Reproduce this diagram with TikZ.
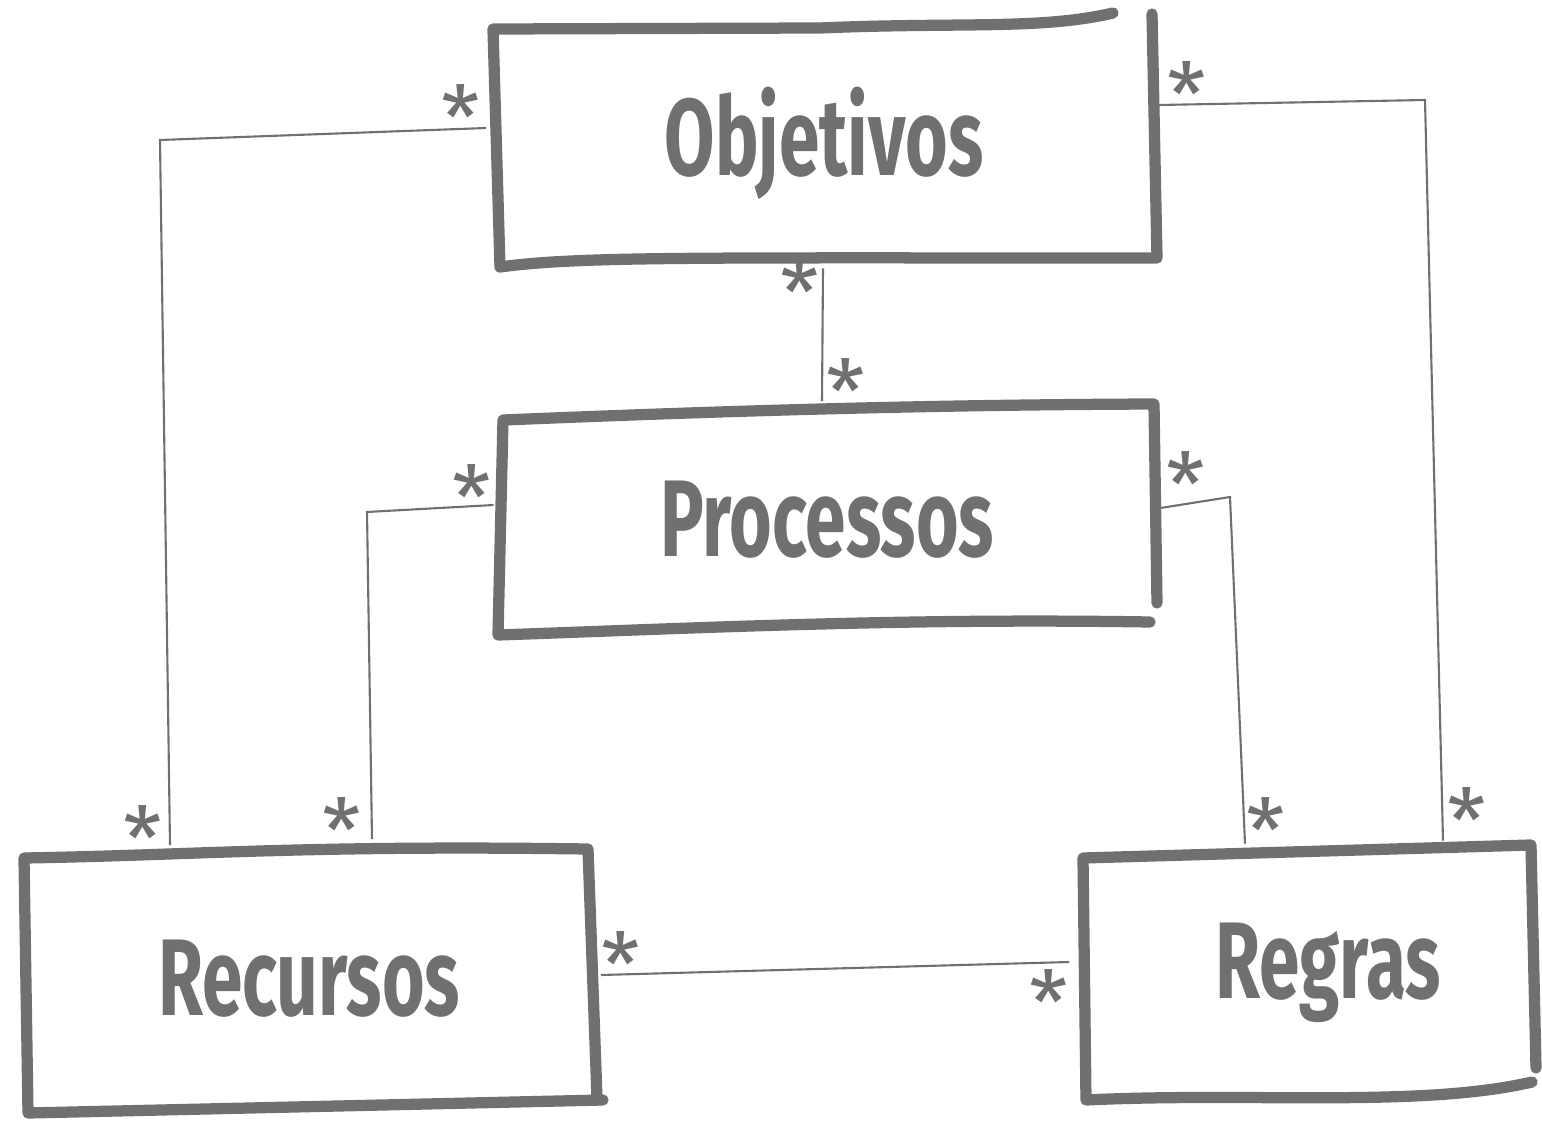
\documentclass[tikz,border=0pt]{standalone}
\usepackage{fontspec}
\setmainfont{Fira Sans}
\newfontfamily\sketchfont[FakeStretch=0.67]{Fira Sans}
\usetikzlibrary{calc}
\definecolor{pencil}{RGB}{112,112,112}

\tikzset{
  entity/.style={draw=none, text=pencil, inner sep=0pt,
    font=\sketchfont\bfseries\fontsize{31}{31}\selectfont},
  sketch/.style={draw=pencil, line width=3.2pt, line cap=round, line join=round},
  link/.style={draw=pencil, line width=0.6pt},
  many/.style={text=pencil, inner sep=0pt, yshift=-2.6pt, font=\fontsize{25}{25}\selectfont}
}

\begin{document}
\begin{tikzpicture}[x=0.01cm,y=-0.01cm]
  \useasboundingbox (0,0) rectangle (1542,1121);

  % the four boxes
  \node[entity, minimum width=6.62cm, minimum height=2.43cm] (obj)  at (824,143) {Objetivos};
  \node[entity, minimum width=6.57cm, minimum height=2.2cm]  (proc) at (827,520) {Processos};
  \node[entity, minimum width=5.7cm,  minimum height=2.54cm] (rec)  at (309,979) {Recursos};
  \node[entity, minimum width=4.5cm,  minimum height=2.47cm] (reg)  at (1308,973) {\hspace*{0.4cm}Regras};

  % hand drawn outlines
  \draw[sketch] (1113,13) .. controls (1040,30) and (960,22) .. (820,28) -- (493,29)
                -- (500,267) .. controls (580,256) and (700,258) .. (1157,258) -- (1152,14);
  \draw[sketch] (1157,603) -- (1154,404) .. controls (900,405) and (700,412) .. (503,420)
                -- (498,635) .. controls (700,628) and (900,618) .. (1150,622);
  \draw[sketch] (603,1100) -- (28,1113) -- (24,858) .. controls (200,855) and (300,845) .. (588,849)
                -- (597,1098);
  \draw[sketch] (1536,1068) -- (1531,845) -- (1083,858) -- (1086,1100)
                .. controls (1250,1092) and (1420,1108) .. (1532,1082);

  % associations
  \draw[link] ($(obj.west)+(-6,-15)$) node[many, shift={(-25,-20)}] {*}
    -- (160,140) -- ($(rec.north)+(-139,-6)$) node[many, shift={(-27,-16)}] {*};
  \draw[link] ($(obj.east)+(3,-38)$) node[many, shift={(28,-20)}] {*}
    -- (1425,100) -- ($(reg.north)+(135,-8)$) node[many, shift={(24,-30)}] {*};
  \draw[link] ($(obj.south)+(-1,3)$) node[many, shift={(-23,15)}] {*}
    -- ($(proc.north)+(-5,-8)$) node[many, shift={(24,-19)}] {*};
  \draw[link] ($(proc.west)+(-4,-15)$) node[many, shift={(-22,-17)}] {*}
    -- (367,512) -- ($(rec.north)+(63,-12)$) node[many, shift={(-30,-18)}] {*};
  \draw[link] ($(proc.east)+(4,-12)$) node[many, shift={(25,-33)}] {*}
    -- (1230,497) -- ($(reg.north)+(-63,-5)$) node[many, shift={(21,-23)}] {*};
  \draw[link] ($(rec.east)+(6,-4)$) node[many, shift={(20,-20)}] {*}
    -- ($(reg.west)+(-13,-11)$) node[many, shift={(-20,31)}] {*};
\end{tikzpicture}
\end{document}
